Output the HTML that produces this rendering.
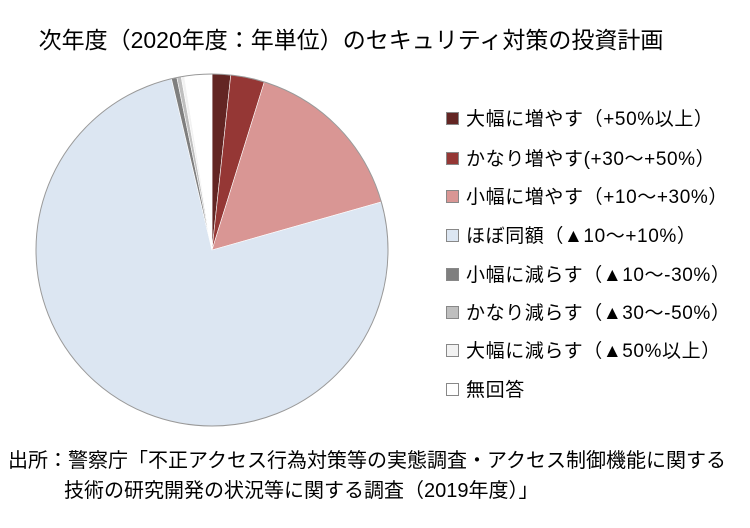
<!DOCTYPE html>
<html><head><meta charset="utf-8"><style>
body{margin:0;width:750px;height:528px;background:#fff;font-family:"Liberation Sans","Noto Sans CJK JP",sans-serif;color:#000;position:relative;overflow:hidden}
.t{position:absolute;white-space:nowrap}
.lg{position:absolute;left:446px;font-size:19px;letter-spacing:0.6px;white-space:nowrap;line-height:22px}
.lg i{display:inline-block;width:11px;height:11px;border:1px solid #888;margin-right:7px;vertical-align:0px}
</style></head><body>
<div class="t" style="left:0;width:702px;text-align:center;top:21px;font-size:23px">次年度（2020年度：年単位）のセキュリティ対策の投資計画</div>
<svg width="750" height="528" style="position:absolute;left:0;top:0">
<g stroke="#fff" stroke-width="0.6" id="p"></g>
<circle cx="212" cy="250" r="176" fill="none" stroke="#999" stroke-width="1"/>
</svg>
<div class="lg" style="top:109px"><i style="background:#632523"></i>大幅に増やす（+50%以上）</div>
<div class="lg" style="top:149px"><i style="background:#953735"></i>かなり増やす(+30～+50%）</div>
<div class="lg" style="top:187px"><i style="background:#d99694"></i>小幅に増やす（+10～+30%）</div>
<div class="lg" style="top:226px"><i style="background:#dce6f2"></i>ほぼ同額（▲10～+10%）</div>
<div class="lg" style="top:265px"><i style="background:#7f7f7f"></i>小幅に減らす（▲10～-30%）</div>
<div class="lg" style="top:303px"><i style="background:#bfbfbf"></i>かなり減らす（▲30～-50%）</div>
<div class="lg" style="top:341px"><i style="background:#f2f2f2"></i>大幅に減らす（▲50%以上）</div>
<div class="lg" style="top:380px"><i style="background:#fff"></i>無回答</div>
<div class="t" style="left:8px;top:444px;font-size:20px">出所：警察庁「不正アクセス行為対策等の実態調査・アクセス制御機能に関する</div>
<div class="t" style="left:64px;top:474px;font-size:20px">技術の研究開発の状況等に関する調査（2019年度）」</div>
<script>
var d=[[0,1.7,"#632523"],[1.7,4.8,"#953735"],[4.8,20.6,"#d99694"],[20.6,96.3,"#dce6f2"],[96.3,96.8,"#7f7f7f"],[96.8,97.2,"#bfbfbf"],[97.2,97.5,"#f2f2f2"],[97.5,100,"#ffffff"]];
var g=document.getElementById("p"),s="";
function pt(p){var a=p/100*2*Math.PI;return (212+176*Math.sin(a)).toFixed(2)+","+(250-176*Math.cos(a)).toFixed(2);}
d.forEach(function(x){var l=(x[1]-x[0])>50?1:0;s+='<path d="M212,250 L'+pt(x[0])+' A176,176 0 '+l+' 1 '+pt(x[1])+' Z" fill="'+x[2]+'"/>';});
g.innerHTML=s;
</script>
</body></html>
